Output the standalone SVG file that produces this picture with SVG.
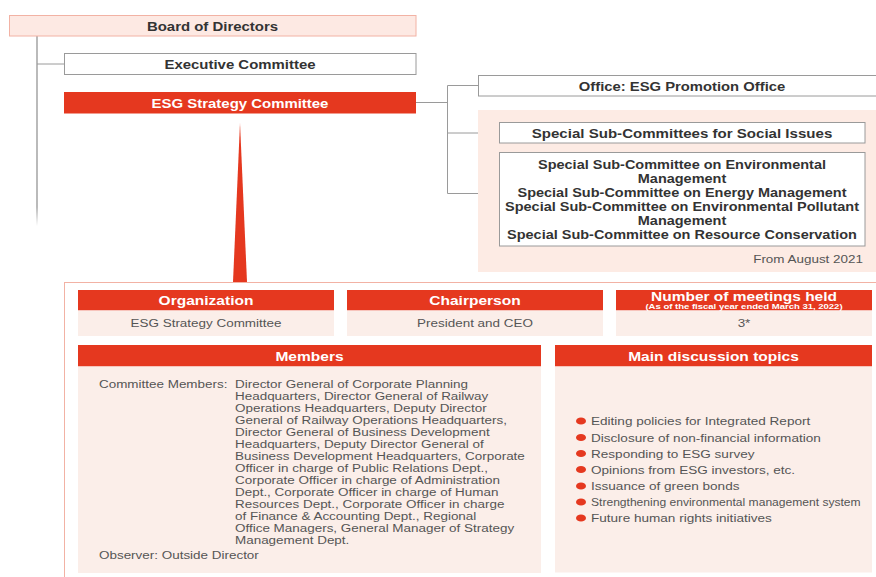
<svg xmlns="http://www.w3.org/2000/svg" width="876" height="577" viewBox="0 0 876 577">
  <style>
    .t { font-family: "Liberation Sans", Arial, sans-serif; }
    .title { font-size: 13px; font-weight: bold; fill: #333333; text-anchor: middle; }
    .head { font-size: 13.5px; font-weight: bold; fill: #ffffff; text-anchor: middle; }
    .body { font-size: 11.5px; fill: #555555; }
    .mid { text-anchor: middle; }
    .end { text-anchor: end; }
    .red { fill: #e5381f; }
    .cell { fill: #fbeee9; }
    .box { fill: #ffffff; stroke: #9a9a9a; stroke-width: 1; }
    .link { fill: none; stroke: #9a9a9a; stroke-width: 1; }
    .dot { fill: #e5381f; }
  </style>
  <defs>
    <linearGradient id="fade" x1="0" y1="36" x2="0" y2="226" gradientUnits="userSpaceOnUse">
      <stop offset="0" stop-color="#8c8c8c"/>
      <stop offset="0.9" stop-color="#8c8c8c"/>
      <stop offset="1" stop-color="#8c8c8c" stop-opacity="0"/>
    </linearGradient>
  </defs>

  <rect width="876" height="577" fill="#ffffff"/>

  <!-- connectors -->
  <g id="connectors">
    <line x1="37" y1="36" x2="37" y2="226" stroke="url(#fade)" stroke-width="1.2"/>
    <line class="link" x1="37" y1="64" x2="64" y2="64"/>
    <polyline class="link" points="416,102.5 447.5,102.5"/>
    <line class="link" x1="447.5" y1="85.5" x2="447.5" y2="193.5"/>
    <line class="link" x1="447.5" y1="85.5" x2="478" y2="85.5"/>
    <line class="link" x1="447.5" y1="133" x2="499" y2="133"/>
    <line class="link" x1="447.5" y1="193.5" x2="499" y2="193.5"/>
    <polygon class="red" points="240,123 233,282 247,282"/>
  </g>

  <g id="board">
    <rect x="9.5" y="15.5" width="406.5" height="20.5" fill="#fde9e3" stroke="#f2b2a4"/>
    <text class="t title" transform="translate(212.5 30.5) scale(1.15 1)">Board of Directors</text>
  </g>

  <g id="executive">
    <rect class="box" x="64.5" y="53.5" width="351.5" height="21"/>
    <text class="t title" transform="translate(240 68.6) scale(1.15 1)">Executive Committee</text>
  </g>

  <g id="esg-committee">
    <rect class="red" x="64" y="92" width="352" height="21.5"/>
    <text class="t title" style="fill:#ffffff" transform="translate(240 108) scale(1.15 1)">ESG Strategy Committee</text>
  </g>

  <g id="office">
    <rect class="box" x="478.5" y="75.5" width="410" height="20.5"/>
    <text class="t title" transform="translate(682 90.6) scale(1.14 1)">Office: ESG Promotion Office</text>
  </g>

  <g id="subcommittees">
    <rect x="478" y="110" width="398" height="162" fill="#fdebe4"/>
    <g id="social">
      <rect class="box" x="499.5" y="122.5" width="365.5" height="20.5"/>
      <text class="t title" transform="translate(682 137.6) scale(1.16 1)">Special Sub-Committees for Social Issues</text>
    </g>
    <g id="environment">
      <rect class="box" x="499.5" y="152.5" width="365.5" height="93.5"/>
      <g class="t title" transform="translate(682 0) scale(1.115 1)">
        <text x="0" y="169.4">Special Sub-Committee on Environmental</text>
        <text x="0" y="183.4">Management</text>
        <text x="0" y="197.4">Special Sub-Committee on Energy Management</text>
        <text x="0" y="211.4">Special Sub-Committee on Environmental Pollutant</text>
        <text x="0" y="225.4">Management</text>
        <text x="0" y="238.8">Special Sub-Committee on Resource Conservation</text>
      </g>
    </g>
    <text class="t body end" transform="translate(863 263) scale(1.17 1)">From August 2021</text>
  </g>

  <!-- committee profile panel -->
  <g id="profile">
    <rect x="64.5" y="282.5" width="830" height="310" fill="#ffffff" stroke="#f2b2a4"/>

    <g id="organization">
      <rect class="red" x="78" y="290" width="256" height="20.5"/>
      <rect class="cell" x="78" y="310.5" width="256" height="25.5"/>
      <text class="t head" transform="translate(206 305) scale(1.15 1)">Organization</text>
      <text class="t body mid" transform="translate(206 327) scale(1.17 1)">ESG Strategy Committee</text>
    </g>

    <g id="chairperson">
      <rect class="red" x="347" y="290" width="256" height="20.5"/>
      <rect class="cell" x="347" y="310.5" width="256" height="25.5"/>
      <text class="t head" transform="translate(475 305) scale(1.15 1)">Chairperson</text>
      <text class="t body mid" transform="translate(475 327) scale(1.17 1)">President and CEO</text>
    </g>

    <g id="meetings">
      <rect class="red" x="616" y="290" width="256" height="20.5"/>
      <rect class="cell" x="616" y="310.5" width="256" height="25.5"/>
      <text class="t head" style="font-size:12.5px" transform="translate(744 300.5) scale(1.24 1)">Number of meetings held</text>
      <text class="t head" style="font-size:8px" transform="translate(744 309) scale(1.19 1)">(As of the fiscal year ended March 31, 2022)</text>
      <text class="t body mid" transform="translate(744 327) scale(1.17 1)">3*</text>
    </g>

    <g id="members">
      <rect class="red" x="78" y="345" width="463" height="21.5"/>
      <rect class="cell" x="78" y="366.5" width="463" height="206.5"/>
      <text class="t head" transform="translate(309.5 360.5) scale(1.15 1)">Members</text>
      <text class="t body" transform="translate(99 388) scale(1.17 1)">Committee Members:</text>
      <g class="t body" transform="translate(235 0) scale(1.17 1)">
        <text x="0" y="388">Director General of Corporate Planning</text>
        <text x="0" y="400">Headquarters, Director General of Railway</text>
        <text x="0" y="412">Operations Headquarters, Deputy Director</text>
        <text x="0" y="424">General of Railway Operations Headquarters,</text>
        <text x="0" y="436">Director General of Business Development</text>
        <text x="0" y="448">Headquarters, Deputy Director General of</text>
        <text x="0" y="460">Business Development Headquarters, Corporate</text>
        <text x="0" y="472">Officer in charge of Public Relations Dept.,</text>
        <text x="0" y="484">Corporate Officer in charge of Administration</text>
        <text x="0" y="496">Dept., Corporate Officer in charge of Human</text>
        <text x="0" y="508">Resources Dept., Corporate Officer in charge</text>
        <text x="0" y="520">of Finance &amp; Accounting Dept., Regional</text>
        <text x="0" y="532">Office Managers, General Manager of Strategy</text>
        <text x="0" y="544">Management Dept.</text>
      </g>
      <text class="t body" transform="translate(99 559) scale(1.17 1)">Observer: Outside Director</text>
    </g>

    <g id="topics">
      <rect class="red" x="555" y="345" width="317" height="21.5"/>
      <rect class="cell" x="555" y="366.5" width="317" height="206"/>
      <text class="t head" transform="translate(713.5 360.5) scale(1.15 1)">Main discussion topics</text>
      <ellipse class="dot" cx="581" cy="421" rx="5" ry="3.6"/>
      <ellipse class="dot" cx="581" cy="437.5" rx="5" ry="3.6"/>
      <ellipse class="dot" cx="581" cy="453.5" rx="5" ry="3.6"/>
      <ellipse class="dot" cx="581" cy="469.5" rx="5" ry="3.6"/>
      <ellipse class="dot" cx="581" cy="486" rx="5" ry="3.6"/>
      <ellipse class="dot" cx="581" cy="502" rx="5" ry="3.6"/>
      <ellipse class="dot" cx="581" cy="518" rx="5" ry="3.6"/>
      <g class="t body" transform="translate(591 0) scale(1.18 1)">
        <text x="0" y="425.5">Editing policies for Integrated Report</text>
        <text x="0" y="441.8">Disclosure of non-financial information</text>
        <text x="0" y="457.8">Responding to ESG survey</text>
        <text x="0" y="473.8">Opinions from ESG investors, etc.</text>
        <text x="0" y="490">Issuance of green bonds</text>
        <text x="0" y="522">Future human rights initiatives</text>
      </g>
      <text class="t body" transform="translate(591 506) scale(1.05 1)">Strengthening environmental management system</text>
    </g>
  </g>
</svg>
